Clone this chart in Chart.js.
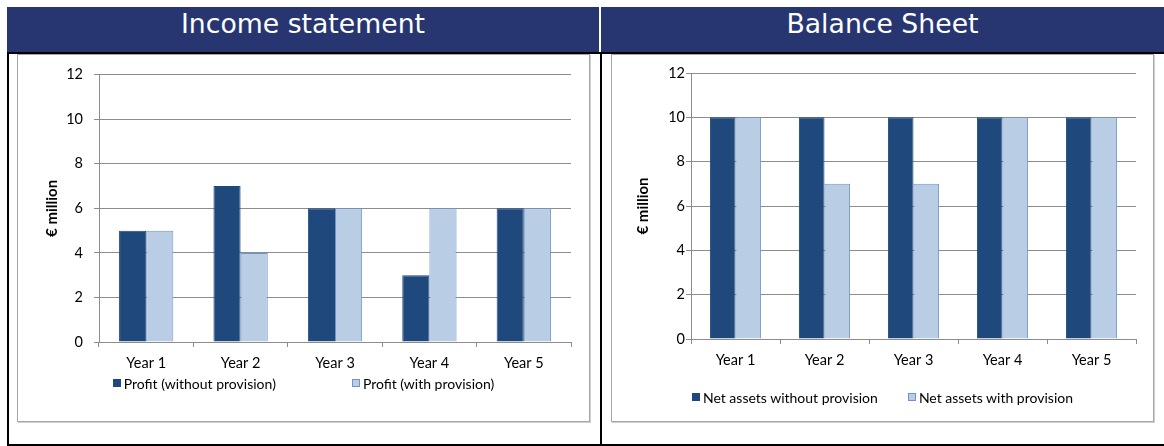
<!DOCTYPE html>
<html>
<head>
<meta charset="utf-8">
<script src="https://cdn.jsdelivr.net/npm/chart.js@4.4.1/dist/chart.umd.min.js"></script>
<style>
  body { margin: 0; background: #fff; width: 1164px; height: 446px; position: relative; overflow: hidden; }
  .head { position: absolute; top: 7px; height: 45px; background: rgb(39, 54, 112); color: #fff;
          font-family: "DejaVu Sans", sans-serif; font-size: 26.7px; line-height: 34px; text-align: center; }
  .line { position: absolute; background: #000; }
  .box { position: absolute; top: 54px; height: 366px; border: 1px solid #a6a6a6; box-shadow: 1px 1px 0 #d0d0d0; }
  .box canvas { position: absolute; left: 0; top: 0; }
  .legend { position: absolute; display: flex; justify-content: center; align-items: center;
            font-family: Lato, sans-serif; font-size: 14px; color: #000; white-space: nowrap; }
  .legend span.sw { display: inline-block; width: 8px; height: 8px; margin-right: 3px; box-sizing: border-box; }
  .legend .item { display: flex; align-items: center; }
</style>
</head>
<body>
<div class="head" style="left:7px; width:592px;">Income statement</div>
<div class="head" style="left:601px; width:563px;">Balance Sheet</div>
<div class="line" style="left:7px; top:52px; width:1157px; height:2px;"></div>
<div class="line" style="left:7px; top:52px; width:2px; height:394px;"></div>
<div class="line" style="left:600px; top:52px; width:2px; height:394px;"></div>
<div class="line" style="left:7px; top:444px; width:1157px; height:2px;"></div>

<div class="box" style="left:17px; width:571px;"><canvas id="income"></canvas></div>
<div class="box" style="left:611px; width:541px;"><canvas id="balance"></canvas></div>
<div class="legend" id="incomeLegend" style="left:18px; width:571px; top:375px; height:16px; gap:76px;"></div>
<div class="legend" id="balanceLegend" style="left:612px; width:541px; top:389px; height:16px; gap:30px;"></div>

<script>
const years = ['Year 1', 'Year 2', 'Year 3', 'Year 4', 'Year 5'];
const profitWithout = [5, 7, 6, 3, 6];
const profitWith = [5, 4, 6, 6, 6];
const netWithout = [10, 10, 10, 10, 10];
const netWith = [10, 7, 7, 10, 10];
const yMax = 12;
const yStep = 2;

const darkBlue = 'rgb(31, 73, 125)';
const lightBlue = 'rgb(185, 205, 229)';
const lightEdge = 'rgb(110, 148, 200)';
const gridGray = 'rgb(140, 140, 140)';
const tickFont = { family: 'Lato, sans-serif', size: 14.5 };

function drawBars(id, legendId, labels, names, seriesA, seriesB, fit) {
    const data = {
        labels: labels,
        datasets: [
            { label: names[0], data: seriesA, backgroundColor: darkBlue, borderColor: darkBlue, borderWidth: 1 },
            { label: names[1], data: seriesB, backgroundColor: lightBlue, borderColor: lightEdge, borderWidth: 1 }
        ]
    };

    const config = {
        type: 'bar',
        data: data,
        options: {
            responsive: false,
            animation: false,
            devicePixelRatio: 1,
            categoryPercentage: 0.575,
            barPercentage: 1.0,
            layout: { padding: { left: 0, top: fit.top, right: fit.right, bottom: fit.bottom } },
            plugins: { legend: { display: false }, tooltip: { enabled: false } },
            scales: {
                x: {
                    grid: { offset: true, drawOnChartArea: false, color: gridGray, tickLength: 5 },
                    border: { color: gridGray },
                    ticks: { color: '#000', font: tickFont, padding: 8, maxRotation: 0 },
                    afterFit: (s) => { s.height = 30; }
                },
                y: {
                    min: 0, max: yMax,
                    ticks: { stepSize: yStep, color: '#000', font: tickFont, padding: fit.tickPad },
                    grid: { color: gridGray, tickLength: 5 },
                    border: { color: gridGray },
                    title: { display: true, text: '€ million', color: '#000',
                             font: { family: 'Lato, sans-serif', size: 15, weight: 'bold' },
                             padding: { top: fit.titlePad, bottom: 0 } },
                    afterFit: (s) => { s.width = fit.axisW; }
                }
            }
        }
    };

    const cv = document.getElementById(id);
    cv.width = fit.w; cv.height = 366;
    const chart = new Chart(cv, config);

    const lg = document.getElementById(legendId);
    chart.data.datasets.forEach((ds) => {
        const it = document.createElement('div');
        it.className = 'item';
        const sw = document.createElement('span');
        sw.className = 'sw';
        sw.style.background = ds.backgroundColor;
        sw.style.border = '1px solid ' + ds.borderColor;
        it.appendChild(sw);
        it.appendChild(document.createTextNode(ds.label));
        lg.appendChild(it);
    });
    return chart;
}

drawBars('income', 'incomeLegend', years,
    ['Profit (without provision)', 'Profit (with provision)'], profitWithout, profitWith,
    { w: 571, top: 17, right: 18, bottom: 49, axisW: 81, tickPad: 11, titlePad: 25 });

drawBars('balance', 'balanceLegend', years,
    ['Net assets without provision', 'Net assets with provision'], netWithout, netWith,
    { w: 541, top: 18, right: 17, bottom: 52, axisW: 79, tickPad: 1, titlePad: 22 });
</script>
</body>
</html>
